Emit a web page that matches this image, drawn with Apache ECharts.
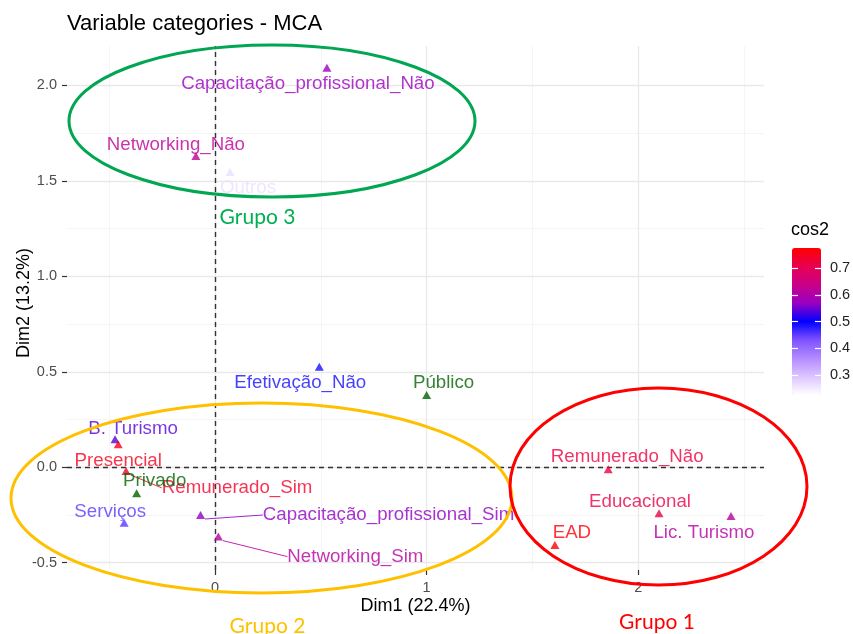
<!DOCTYPE html>
<html>
<head>
<meta charset="utf-8">
<script src="https://cdn.jsdelivr.net/npm/echarts@6/dist/echarts.min.js"></script>
<style>
html,body{margin:0;padding:0;background:#fff;}
#chart{width:853px;height:634px;}
</style>
</head>
<body>
<div id="chart"></div>
<script>
// ---- data ----
const categories = ['Capacitação_profissional_Não','Networking_Não','Outros','Efetivação_Não','B. Turismo','Presencial','Remunerado_Sim','Serviços','Capacitação_profissional_Sim','Networking_Sim','Remunerado_Não','Educacional','EAD','Lic. Turismo'];
const dim1 = [0.529, -0.090, 0.071, 0.493, -0.472, -0.457, -0.420, -0.429, -0.068, 0.016, 1.858, 2.098, 1.606, 2.438];
const dim2 = [2.092, 1.630, 1.546, 0.527, 0.147, 0.120, -0.019, -0.290, -0.250, -0.363, -0.010, -0.241, -0.407, -0.255];
const cos2 = [0.570, 0.620, 0.265, 0.488, 0.540, 0.750, 0.740, 0.452, 0.565, 0.610, 0.720, 0.715, 0.770, 0.610];
const supCategories = ['Público','Privado'];
const supDim1 = [1.000, -0.370];
const supDim2 = [0.379, -0.136];
const xTicks = [0, 1, 2];
const yTicks = [-0.5, 0, 0.5, 1, 1.5, 2];
const xMinor = [-0.5, 0.5, 1.5, 2.5];
const yMinor = [-0.25, 0.25, 0.75, 1.25, 1.75];
const cos2Ticks = [0.3, 0.4, 0.5, 0.6, 0.7];

// ---- layout / style (not data) ----
const labelOffsets = {
  'Capacitação_profissional_Não':[-19,16], 'Networking_Não':[-20,-11], 'Outros':[18,16],
  'Efetivação_Não':[-19,16], 'B. Turismo':[18,-10], 'Presencial':[0,17], 'Remunerado_Sim':[111,17],
  'Serviços':[-14,-11], 'Capacitação_profissional_Sim':[188,0], 'Networking_Sim':[137,20],
  'Remunerado_Não':[19,-12], 'Educacional':[-19,-11], 'EAD':[17,-12], 'Lic. Turismo':[-27,17],
  'Público':[17,-12], 'Privado':[18,-12]
};
const withConnector = ['Remunerado_Sim','Capacitação_profissional_Sim','Networking_Sim'];
const FONT = 'Liberation Sans, Arial, sans-serif';
const gradient = ['#ffffff','#dcc5ff','#b38bff','#7e51ff','#0000ff','#9a00c2','#c90088','#e80050','#ff0000'];

const chart = echarts.init(document.getElementById('chart'), null, {renderer:'canvas'});

const activeData = categories.map((n, i) => ({
  name: n, value: [dim1[i], dim2[i], cos2[i]],
  labelLine: { show: withConnector.indexOf(n) >= 0 }
}));
const supData = supCategories.map((n, i) => ({ name: n, value: [supDim1[i], supDim2[i]] }));

const gridLines = []
  .concat(xMinor.map(v => ({xAxis: v, lineStyle:{color:'#f1f1f1', width:0.7, type:'solid'}})))
  .concat(yMinor.map(v => ({yAxis: v, lineStyle:{color:'#f1f1f1', width:0.7, type:'solid'}})))
  .concat(xTicks.map(v => ({xAxis: v, lineStyle:{color:'#e9e9e9', width:1.3, type:'solid'}})))
  .concat(yTicks.map(v => ({yAxis: v, lineStyle:{color:'#e9e9e9', width:1.3, type:'solid'}})))
  .concat([{xAxis: 0, lineStyle:{color:'#333', width:1.4, type:[5,4]}},
           {yAxis: 0, lineStyle:{color:'#333', width:1.4, type:[5,4]}}]);

function makeLayout(names){
  return function(p){
    const o = labelOffsets[names[p.dataIndex]] || [0,0];
    return { dx: o[0], dy: o[1] };
  };
}

const option = {
  animation: false,
  backgroundColor: '#ffffff',
  title: [
    { text: 'Variable categories - MCA', left: 67, top: 13, padding: 0,
      textStyle: { fontFamily: FONT, fontSize: 22, fontWeight: 'normal', color: '#000' } },
    { text: 'cos2', left: 791, top: 221, padding: 0,
      textStyle: { fontFamily: FONT, fontSize: 18, fontWeight: 'normal', color: '#000' } }
  ],
  grid: [
    { left: 67, top: 46, width: 697, height: 524, containLabel: false, outerBoundsMode: 'none' },
    { left: 792, top: 248, width: 29, height: 147, containLabel: false, outerBoundsMode: 'none' }
  ],
  xAxis: [
    { type: 'value', gridIndex: 0, min: -0.699, max: 2.594,
      name: 'Dim1 (22.4%)', nameLocation: 'middle', nameGap: 27, nameMoveOverlap: false,
      nameTextStyle: { fontFamily: FONT, fontSize: 18, color: '#000' },
      axisLine: { show: false, onZero: false },
      axisTick: { show: true, customValues: xTicks, length: 5, lineStyle: { color: '#333', width: 1.2 } },
      axisLabel: { customValues: xTicks, formatter: v => String(v), margin: 10,
        fontFamily: FONT, fontSize: 14.5, color: '#4d4d4d' },
      splitLine: { show: false } },
    { type: 'value', gridIndex: 1, min: 0, max: 1, show: false }
  ],
  yAxis: [
    { type: 'value', gridIndex: 0, min: -0.538, max: 2.206,
      name: 'Dim2 (13.2%)', nameLocation: 'middle', nameGap: 34, nameRotate: 90, nameMoveOverlap: false,
      nameTextStyle: { fontFamily: FONT, fontSize: 18, color: '#000', padding: [0, 0, 0, 10] },
      axisLine: { show: false, onZero: false },
      axisTick: { show: true, customValues: yTicks, length: 5, lineStyle: { color: '#333', width: 1.2 } },
      axisLabel: { customValues: yTicks, formatter: v => v.toFixed(1), margin: 10,
        fontFamily: FONT, fontSize: 14.5, color: '#4d4d4d' },
      splitLine: { show: false } },
    { type: 'value', gridIndex: 1, min: 0.226, max: 0.775, position: 'right', z: 10,
      axisLine: { show: false, onZero: false },
      axisTick: { show: true, inside: true, customValues: cos2Ticks, length: 6, lineStyle: { color: '#ffffff', width: 1.2 } },
      axisLabel: { customValues: cos2Ticks, formatter: v => v.toFixed(1), margin: 9,
        fontFamily: FONT, fontSize: 14.5, color: '#222' },
      splitLine: { show: false } },
    { type: 'value', gridIndex: 1, min: 0.226, max: 0.775, position: 'left', z: 10,
      axisLine: { show: false, onZero: false },
      axisTick: { show: true, inside: true, customValues: cos2Ticks, length: 6, lineStyle: { color: '#ffffff', width: 1.2 } },
      axisLabel: { show: false },
      splitLine: { show: false } }
  ],
  visualMap: {
    type: 'continuous', min: 0.226, max: 0.775, dimension: 2, seriesIndex: 1,
    inRange: { color: gradient },
    left: 792, top: 248, itemWidth: 29, itemHeight: 147, padding: 0,
    calculable: false, hoverLink: false, text: null, showLabel: false
  },
  series: [
    { type: 'scatter', xAxisIndex: 0, yAxisIndex: 0, data: [], silent: true, z: 0,
      markLine: { silent: true, z: 0, symbol: ['none','none'], label: { show: false },
        emphasis: { disabled: true }, data: gridLines } },
    { type: 'scatter', name: 'active', xAxisIndex: 0, yAxisIndex: 0, z: 6,
      symbol: 'triangle', symbolSize: [9, 8],
      data: activeData,
      label: { show: true, position: 'inside', formatter: p => p.name, color: 'inherit',
        fontFamily: FONT, fontSize: 18.7, textBorderWidth: 0, align: 'center', verticalAlign: 'middle' },
      labelLine: { show: false, lineStyle: { width: 1, opacity: 0.85 } },
      labelLayout: makeLayout(categories),
      emphasis: { disabled: true } },
    { type: 'scatter', name: 'sup', xAxisIndex: 0, yAxisIndex: 0, z: 6,
      symbol: 'triangle', symbolSize: [9, 8],
      itemStyle: { color: '#006400' },
      data: supData,
      label: { show: true, position: 'inside', formatter: p => p.name, color: '#006400',
        fontFamily: FONT, fontSize: 18.7, textBorderWidth: 0, align: 'center', verticalAlign: 'middle' },
      labelLayout: makeLayout(supCategories),
      emphasis: { disabled: true } }
  ],
  graphic: [
    { type: 'ellipse', z: 100, shape: { cx: 272, cy: 121, rx: 203, ry: 76 },
      style: { fill: 'none', stroke: '#00a651', lineWidth: 3 } },
    { type: 'ellipse', z: 100, shape: { cx: 261.5, cy: 498, rx: 250.5, ry: 95 },
      style: { fill: 'none', stroke: '#ffc000', lineWidth: 3 } },
    { type: 'ellipse', z: 100, shape: { cx: 658.5, cy: 486.5, rx: 148.5, ry: 98.5 },
      style: { fill: 'none', stroke: '#ff0000', lineWidth: 3 } },
    { type: 'text', z: 100, x: 257.5, y: 217, style: { text: 'Grupo 3', fill: '#00b050',
      font: '21px Lato, "Open Sans", sans-serif', textAlign: 'center', textVerticalAlign: 'middle' } },
    { type: 'text', z: 100, x: 267.5, y: 626, style: { text: 'Grupo 2', fill: '#ffc000',
      font: '21px Lato, "Open Sans", sans-serif', textAlign: 'center', textVerticalAlign: 'middle' } },
    { type: 'text', z: 100, x: 657, y: 622, style: { text: 'Grupo 1', fill: '#ff0000',
      font: '21px Lato, "Open Sans", sans-serif', textAlign: 'center', textVerticalAlign: 'middle' } }
  ]
};
chart.setOption(option);
</script>
</body>
</html>
